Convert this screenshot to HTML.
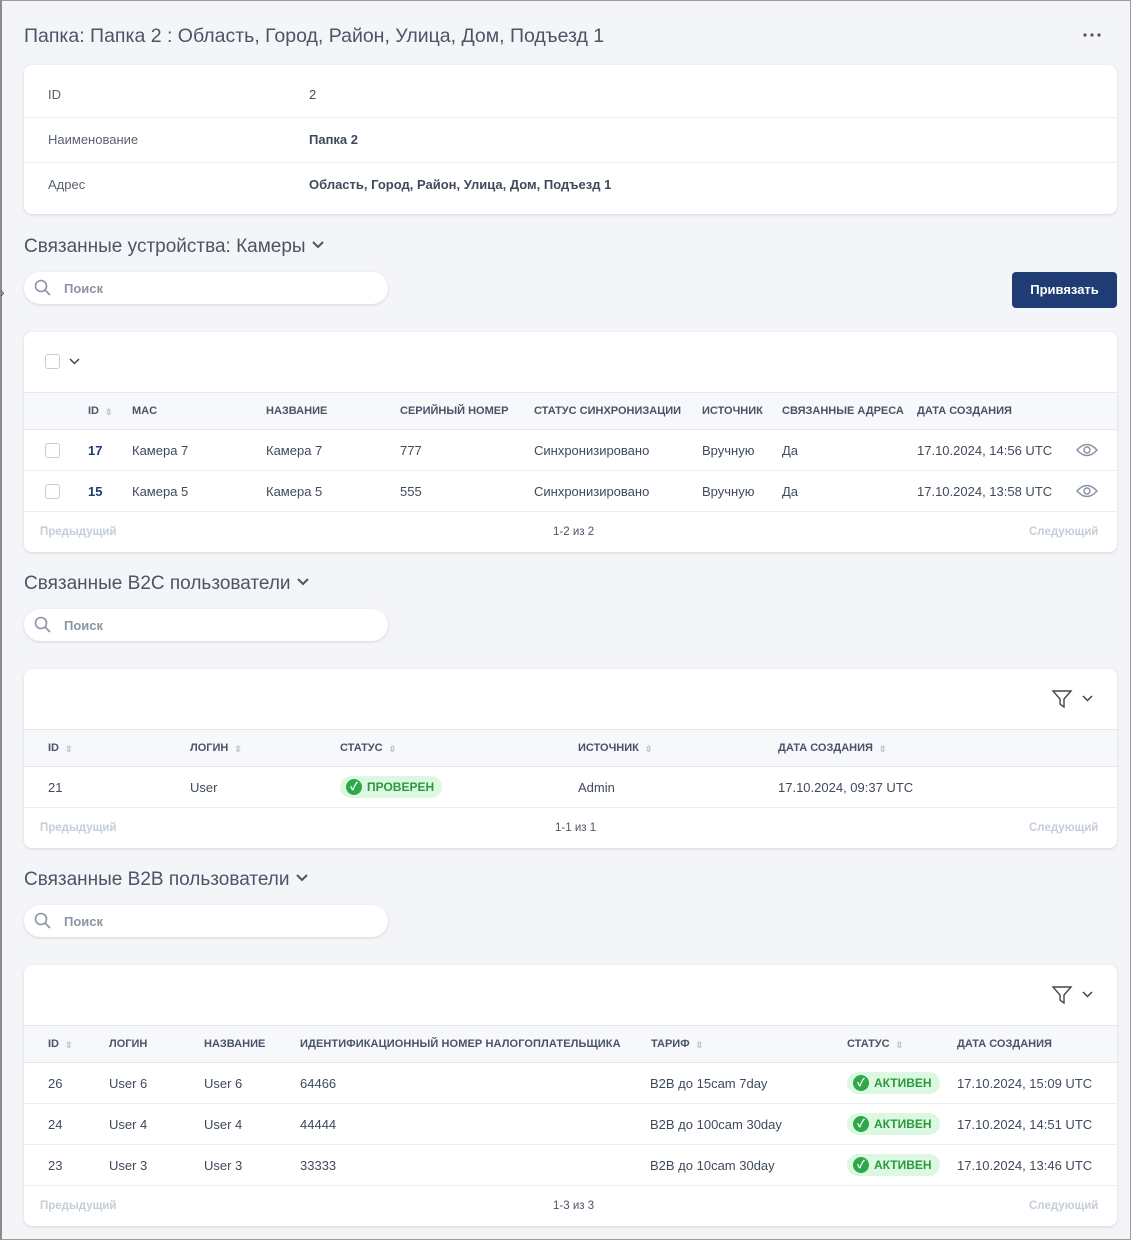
<!DOCTYPE html>
<html><head><meta charset="utf-8"><style>
*{box-sizing:border-box;margin:0;padding:0}
body{width:1131px;height:1240px;background:#f4f5f8;font-family:"Liberation Sans","Noto Sans CJK SC",sans-serif;color:#3f4a5a;position:relative;overflow:hidden}
.frame{position:absolute;left:0;top:0;width:1131px;height:1240px;border:1px solid #9a9a9a;border-left:2px solid #8a8a8a}
.a{position:absolute;white-space:nowrap}
.card{position:absolute;left:24px;width:1093px;background:#fff;border-radius:8px;box-shadow:0 1px 3px rgba(0,0,0,.12)}
.h2{font-size:19px;color:#4b5566}
.search{position:absolute;left:24px;width:364px;height:32px;background:#fff;border-radius:16px;box-shadow:0 1px 3px rgba(0,0,0,.12)}
.search span{position:absolute;left:40px;top:9px;font-size:13px;color:#8a93a3;font-weight:bold}
.thead{position:absolute;left:0;width:1093px;height:38px;background:#f7f8fb;border-top:1px solid #e6e8ee;border-bottom:1px solid #e6e8ee}
.th{position:absolute;font-size:11px;font-weight:bold;color:#4a5366;white-space:nowrap}
.td{position:absolute;font-size:13px;color:#3f4a5a;white-space:nowrap}
.line{position:absolute;left:0;width:1093px;height:1px;background:#eceef2}
.pg{position:absolute;font-size:11.5px;color:#c5cdd8;font-weight:bold}
.pc{position:absolute;font-size:11.5px;color:#4a5366}
.cb{position:absolute;width:15px;height:15px;border:1px solid #c8ccd4;border-radius:3px}
.badge{position:absolute;height:22px;border-radius:11px;background:#dcf8e2;color:#2a9a3c;font-size:12px;font-weight:bold;padding:4px 8px 0 27px}
.badge:before{content:"✓";position:absolute;left:6px;top:3px;width:16px;height:16px;border-radius:8px;background:#2fa84a;color:#fff;font-size:11px;text-align:center;line-height:16px}
.sort{display:inline-block;font-size:9px;color:#b8bec8;margin-left:6px;vertical-align:-1px}
.chev{display:inline-block;vertical-align:3px;margin-left:6px}
</style></head><body>
<div class="frame"></div>
<div class="a" style="left:0;top:284px;font-size:14px;color:#555">›</div>
<div class="a" style="left:24px;top:25px;font-size:19.5px;color:#4b5566">Папка: Папка 2 : Область, Город, Район, Улица, Дом, Подъезд 1</div>
<svg style="position:absolute;left:1083px;top:33px" width="18" height="4"><circle cx="2" cy="2" r="1.6" fill="#555"/><circle cx="9" cy="2" r="1.6" fill="#555"/><circle cx="16" cy="2" r="1.6" fill="#555"/></svg>

<div class="card" style="top:65px;height:149px">
 <div class="td" style="left:24px;top:22px;color:#6a5a55">ID</div>
 <div class="td" style="left:285px;top:22px">2</div>
 <div class="line" style="top:52px"></div>
 <div class="td" style="left:24px;top:67px;color:#5a6270">Наименование</div>
 <div class="td" style="left:285px;top:67px;font-weight:bold">Папка 2</div>
 <div class="line" style="top:97px"></div>
 <div class="td" style="left:24px;top:112px;color:#5a6270">Адрес</div>
 <div class="td" style="left:285px;top:112px;font-weight:bold">Область, Город, Район, Улица, Дом, Подъезд 1</div>
</div>

<div class="a h2" style="left:24px;top:236px">Связанные устройства: Камеры<svg class="chev" width="12" height="8"><path d="M1 1 L6 6 L11 1" fill="none" stroke="#4b5566" stroke-width="2"/></svg></div>
<div class="search" style="top:272px"><svg style="position:absolute;left:10px;top:7px" width="18" height="18"><circle cx="7" cy="7" r="5.5" fill="none" stroke="#8a93a3" stroke-width="1.6"/><line x1="11" y1="11" x2="16" y2="16" stroke="#8a93a3" stroke-width="1.6"/></svg><span>Поиск</span></div>
<div class="a" style="left:1012px;top:272px;width:105px;height:36px;background:#1f3c75;border-radius:4px;color:#fff;font-size:13px;font-weight:bold;text-align:center;line-height:36px">Привязать</div>

<div class="card" style="top:332px;height:220px">
 <div class="cb" style="left:21px;top:22px"></div>
 <svg style="position:absolute;left:45px;top:26px" width="11" height="7"><path d="M1 1 L5.5 5.5 L10 1" fill="none" stroke="#444" stroke-width="1.5"/></svg>
 <div class="thead" style="top:60px"></div>
 <div class="th" style="left:64px;top:73px">ID<span class="sort">⇳</span></div>
 <div class="th" style="left:108px;top:73px">MAC</div>
 <div class="th" style="left:242px;top:73px">НАЗВАНИЕ</div>
 <div class="th" style="left:376px;top:73px">СЕРИЙНЫЙ НОМЕР</div>
 <div class="th" style="left:510px;top:73px">СТАТУС СИНХРОНИЗАЦИИ</div>
 <div class="th" style="left:678px;top:73px">ИСТОЧНИК</div>
 <div class="th" style="left:758px;top:73px">СВЯЗАННЫЕ АДРЕСА</div>
 <div class="th" style="left:893px;top:73px">ДАТА СОЗДАНИЯ</div>
 <div class="cb" style="left:21px;top:111px"></div>
 <div class="td" style="left:64px;top:111px;font-weight:bold;color:#1f3c75">17</div>
 <div class="td" style="left:108px;top:111px">Камера 7</div><div class="td" style="left:242px;top:111px">Камера 7</div>
 <div class="td" style="left:376px;top:111px">777</div><div class="td" style="left:510px;top:111px">Синхронизировано</div>
 <div class="td" style="left:678px;top:111px">Вручную</div><div class="td" style="left:758px;top:111px">Да</div>
 <div class="td" style="left:893px;top:111px">17.10.2024, 14:56 UTC</div>
 <svg style="position:absolute;left:1052px;top:110px" width="22" height="16"><path d="M1 8 Q11 -3 21 8 Q11 19 1 8Z" fill="none" stroke="#8a93a3" stroke-width="1.5"/><circle cx="11" cy="8" r="3" fill="none" stroke="#8a93a3" stroke-width="1.5"/></svg>
 <div class="line" style="top:138px"></div>
 <div class="cb" style="left:21px;top:152px"></div>
 <div class="td" style="left:64px;top:152px;font-weight:bold;color:#1f3c75">15</div>
 <div class="td" style="left:108px;top:152px">Камера 5</div><div class="td" style="left:242px;top:152px">Камера 5</div>
 <div class="td" style="left:376px;top:152px">555</div><div class="td" style="left:510px;top:152px">Синхронизировано</div>
 <div class="td" style="left:678px;top:152px">Вручную</div><div class="td" style="left:758px;top:152px">Да</div>
 <div class="td" style="left:893px;top:152px">17.10.2024, 13:58 UTC</div>
 <svg style="position:absolute;left:1052px;top:151px" width="22" height="16"><path d="M1 8 Q11 -3 21 8 Q11 19 1 8Z" fill="none" stroke="#8a93a3" stroke-width="1.5"/><circle cx="11" cy="8" r="3" fill="none" stroke="#8a93a3" stroke-width="1.5"/></svg>
 <div class="line" style="top:179px"></div>
 <div class="pg" style="left:16px;top:194px">Предыдущий</div>
 <div class="pc" style="left:529px;top:194px">1-2 из 2</div>
 <div class="pg" style="left:1005px;top:194px">Следующий</div>
</div>

<div class="a h2" style="left:24px;top:573px">Связанные B2C пользователи<svg class="chev" width="12" height="8"><path d="M1 1 L6 6 L11 1" fill="none" stroke="#4b5566" stroke-width="2"/></svg></div>
<div class="search" style="top:609px"><svg style="position:absolute;left:10px;top:7px" width="18" height="18"><circle cx="7" cy="7" r="5.5" fill="none" stroke="#8a93a3" stroke-width="1.6"/><line x1="11" y1="11" x2="16" y2="16" stroke="#8a93a3" stroke-width="1.6"/></svg><span>Поиск</span></div>

<div class="card" style="top:669px;height:179px">
 <svg style="position:absolute;left:1027px;top:20px" width="22" height="20"><path d="M2 2 H20 L13 10 V18 L9 15 V10Z" fill="none" stroke="#444" stroke-width="1.4"/></svg>
 <svg style="position:absolute;left:1058px;top:26px" width="11" height="7"><path d="M1 1 L5.5 5.5 L10 1" fill="none" stroke="#444" stroke-width="1.5"/></svg>
 <div class="thead" style="top:60px"></div>
 <div class="th" style="left:24px;top:73px">ID<span class="sort">⇳</span></div>
 <div class="th" style="left:166px;top:73px">ЛОГИН<span class="sort">⇳</span></div>
 <div class="th" style="left:316px;top:73px">СТАТУС<span class="sort">⇳</span></div>
 <div class="th" style="left:554px;top:73px">ИСТОЧНИК<span class="sort">⇳</span></div>
 <div class="th" style="left:754px;top:73px">ДАТА СОЗДАНИЯ<span class="sort">⇳</span></div>
 <div class="td" style="left:24px;top:111px">21</div>
 <div class="td" style="left:166px;top:111px">User</div>
 <div class="badge" style="left:316px;top:107px">ПРОВЕРЕН</div>
 <div class="td" style="left:554px;top:111px">Admin</div>
 <div class="td" style="left:754px;top:111px">17.10.2024, 09:37 UTC</div>
 <div class="line" style="top:138px"></div>
 <div class="pg" style="left:16px;top:153px">Предыдущий</div>
 <div class="pc" style="left:531px;top:153px">1-1 из 1</div>
 <div class="pg" style="left:1005px;top:153px">Следующий</div>
</div>

<div class="a h2" style="left:24px;top:869px">Связанные B2B пользователи<svg class="chev" width="12" height="8"><path d="M1 1 L6 6 L11 1" fill="none" stroke="#4b5566" stroke-width="2"/></svg></div>
<div class="search" style="top:905px"><svg style="position:absolute;left:10px;top:7px" width="18" height="18"><circle cx="7" cy="7" r="5.5" fill="none" stroke="#8a93a3" stroke-width="1.6"/><line x1="11" y1="11" x2="16" y2="16" stroke="#8a93a3" stroke-width="1.6"/></svg><span>Поиск</span></div>

<div class="card" style="top:965px;height:261px">
 <svg style="position:absolute;left:1027px;top:20px" width="22" height="20"><path d="M2 2 H20 L13 10 V18 L9 15 V10Z" fill="none" stroke="#444" stroke-width="1.4"/></svg>
 <svg style="position:absolute;left:1058px;top:26px" width="11" height="7"><path d="M1 1 L5.5 5.5 L10 1" fill="none" stroke="#444" stroke-width="1.5"/></svg>
 <div class="thead" style="top:60px"></div>
 <div class="th" style="left:24px;top:73px">ID<span class="sort">⇳</span></div>
 <div class="th" style="left:85px;top:73px">ЛОГИН</div>
 <div class="th" style="left:180px;top:73px">НАЗВАНИЕ</div>
 <div class="th" style="left:276px;top:73px;letter-spacing:0.1px">ИДЕНТИФИКАЦИОННЫЙ НОМЕР НАЛОГОПЛАТЕЛЬЩИКА</div>
 <div class="th" style="left:627px;top:73px">ТАРИФ<span class="sort">⇳</span></div>
 <div class="th" style="left:823px;top:73px">СТАТУС<span class="sort">⇳</span></div>
 <div class="th" style="left:933px;top:73px">ДАТА СОЗДАНИЯ</div>

 <div class="td" style="left:24px;top:111px">26</div><div class="td" style="left:85px;top:111px">User 6</div><div class="td" style="left:180px;top:111px">User 6</div>
 <div class="td" style="left:276px;top:111px">64466</div><div class="td" style="left:626px;top:111px">B2B до 15cam 7day</div>
 <div class="badge" style="left:823px;top:107px">АКТИВЕН</div><div class="td" style="left:933px;top:111px">17.10.2024, 15:09 UTC</div>
 <div class="line" style="top:138px"></div>
 <div class="td" style="left:24px;top:152px">24</div><div class="td" style="left:85px;top:152px">User 4</div><div class="td" style="left:180px;top:152px">User 4</div>
 <div class="td" style="left:276px;top:152px">44444</div><div class="td" style="left:626px;top:152px">B2B до 100cam 30day</div>
 <div class="badge" style="left:823px;top:148px">АКТИВЕН</div><div class="td" style="left:933px;top:152px">17.10.2024, 14:51 UTC</div>
 <div class="line" style="top:179px"></div>
 <div class="td" style="left:24px;top:193px">23</div><div class="td" style="left:85px;top:193px">User 3</div><div class="td" style="left:180px;top:193px">User 3</div>
 <div class="td" style="left:276px;top:193px">33333</div><div class="td" style="left:626px;top:193px">B2B до 10cam 30day</div>
 <div class="badge" style="left:823px;top:189px">АКТИВЕН</div><div class="td" style="left:933px;top:193px">17.10.2024, 13:46 UTC</div>
 <div class="line" style="top:220px"></div>
 <div class="pg" style="left:16px;top:235px">Предыдущий</div>
 <div class="pc" style="left:529px;top:235px">1-3 из 3</div>
 <div class="pg" style="left:1005px;top:235px">Следующий</div>
</div>
</body></html>
